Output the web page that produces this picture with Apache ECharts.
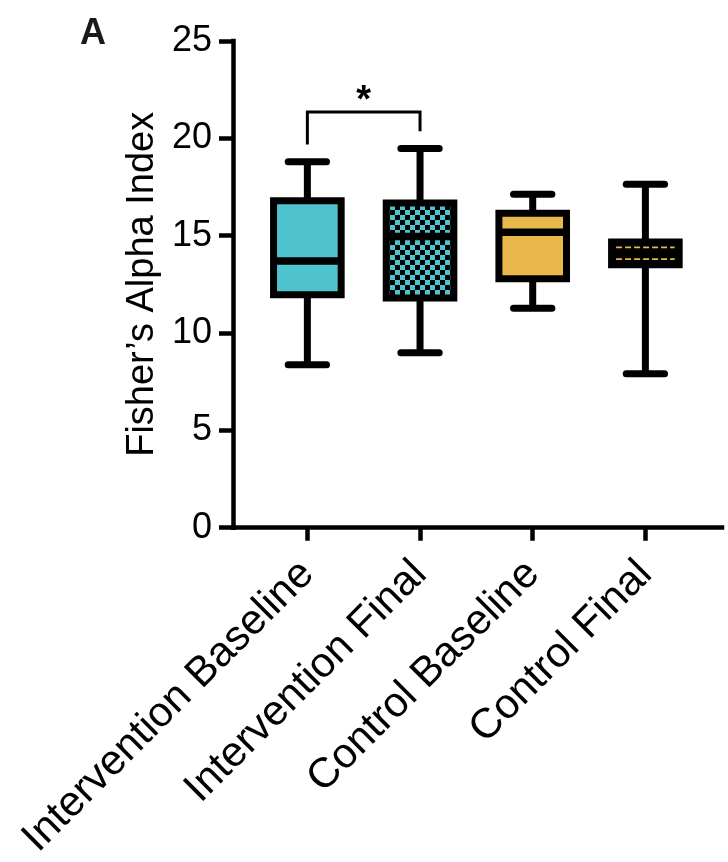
<!DOCTYPE html>
<html>
<head>
<meta charset="utf-8">
<script src="https://cdn.jsdelivr.net/npm/echarts@6/dist/echarts.min.js"></script>
<style>
  html, body { margin: 0; padding: 0; background: #fff; }
  #chart { width: 728px; height: 862px; }
</style>
</head>
<body>
<div id="chart"></div>
<script>
// ---- data ----
const categories = ['Intervention Baseline', 'Intervention Final', 'Control Baseline', 'Control Final'];
const minVals    = [8.37, 8.99, 11.27, 7.91];
const q1Vals     = [11.97, 11.80, 12.79, 13.50];
const medianVals = [13.70, 14.96, 15.17, 14.11];
const q3Vals     = [16.80, 16.68, 16.15, 14.68];
const maxVals    = [18.80, 19.48, 17.13, 17.64];
const yTicks     = [0, 5, 10, 15, 20, 25];
const sigPairs   = [[0, 1]];
const sigLevel   = [21.35];
const sigLabels  = ['*'];

// ---- styles ----
const CYAN = '#4fc4cf';
const GOLD = '#e8b84c';
const fillKinds = ['solid', 'checker', 'solid', 'wave'];
const fillColors = [CYAN, CYAN, GOLD, GOLD];
const FONT = '"Liberation Sans", Arial, Helvetica, sans-serif';

function makeChecker(color) {
  const c = document.createElement('canvas');
  c.width = 10; c.height = 10;
  const g = c.getContext('2d');
  g.fillStyle = color; g.fillRect(0, 0, 10, 10);
  g.fillStyle = '#000';
  g.fillRect(0, 0, 5, 5); g.fillRect(5, 5, 5, 5);
  return c;
}
const checkerCanvas = makeChecker(CYAN);

const boxData = categories.map((c, i) => [i, minVals[i], q1Vals[i], medianVals[i], q3Vals[i], maxVals[i]]);
const sigData = sigPairs.map((p, k) => [p[0], p[1], sigLevel[k]]);

const LW = 7;
function renderBox(params, api) {
  const i = api.value(0);
  const pMin = api.coord([i, api.value(1)]);
  const pQ1 = api.coord([i, api.value(2)]);
  const pMed = api.coord([i, api.value(3)]);
  const pQ3 = api.coord([i, api.value(4)]);
  const pMax = api.coord([i, api.value(5)]);
  const band = api.size([1, 0])[0];
  const half = band * 0.3;
  const capHalf = band * 0.17;
  const x = pMed[0];
  const kind = fillKinds[i];
  const children = [];
  const lineStyle = { stroke: '#000', lineWidth: LW, lineCap: 'butt' };
  children.push({ type: 'line', shape: { x1: x, y1: pMax[1], x2: x, y2: pQ3[1] }, style: lineStyle });
  children.push({ type: 'line', shape: { x1: x, y1: pQ1[1], x2: x, y2: pMin[1] }, style: lineStyle });
  const capStyle = { stroke: '#000', lineWidth: LW, lineCap: 'round' };
  children.push({ type: 'line', shape: { x1: x - capHalf, y1: pMax[1], x2: x + capHalf, y2: pMax[1] }, style: capStyle });
  children.push({ type: 'line', shape: { x1: x - capHalf, y1: pMin[1], x2: x + capHalf, y2: pMin[1] }, style: capStyle });
  let fill = fillColors[i];
  if (kind === 'checker') fill = { image: checkerCanvas, repeat: 'repeat' };
  if (kind === 'wave') fill = '#000';
  children.push({
    type: 'rect',
    shape: { x: x - half, y: pQ3[1], width: half * 2, height: pQ1[1] - pQ3[1] },
    style: { fill: fill, stroke: '#000', lineWidth: LW }
  });
  if (kind === 'wave') {
    const yA = (pQ3[1] + LW / 2 + pMed[1] - 3.75) / 2;
    const yB = (pQ1[1] - LW / 2 + pMed[1] + 3.75) / 2;
    [yA, yB].forEach(yy => {
      children.push({
        type: 'line',
        shape: { x1: x - half + LW / 2 + 1, y1: yy, x2: x + half - LW / 2 - 1, y2: yy },
        style: { stroke: fillColors[i], lineWidth: 1.8, lineDash: [6, 3] }
      });
    });
  }
  children.push({ type: 'line', shape: { x1: x - half, y1: pMed[1], x2: x + half, y2: pMed[1] }, style: { stroke: '#000', lineWidth: 7.5 } });
  return { type: 'group', children: children };
}

function renderSig(params, api) {
  const a = api.value(0), b = api.value(1), lvl = api.value(2);
  const pA = api.coord([a, lvl]);
  const pB = api.coord([b, lvl]);
  const endA = api.coord([a, maxVals[a] + 0.88]);
  const endB = api.coord([b, maxVals[b] + 0.88]);
  return {
    type: 'group',
    children: [
      { type: 'polyline', shape: { points: [[pA[0], endA[1]], [pA[0], pA[1]], [pB[0], pB[1]], [pB[0], endB[1]]] },
        style: { stroke: '#000', lineWidth: 3, fill: null } },
      { type: 'text', style: { x: (pA[0] + pB[0]) / 2, y: pA[1] - 11, text: sigLabels[params.dataIndex],
        font: 'bold 38px ' + FONT, fill: '#000', align: 'center', verticalAlign: 'middle' } }
    ]
  };
}

const chart = echarts.init(document.getElementById('chart'), null, { renderer: 'canvas' });
chart.setOption({
  animation: false,
  backgroundColor: '#fff',
  title: {
    text: 'A', left: 80, top: 16, padding: 0,
    textStyle: { fontFamily: FONT, fontWeight: 'bold', fontSize: 36, color: '#1a1a1a' }
  },
  grid: { left: 233, right: 6, top: 41, bottom: 332.5, containLabel: false },
  xAxis: {
    type: 'value', min: -0.66, max: 3.68,
    splitLine: { show: false },
    axisLine: { show: true, onZero: false, lineStyle: { color: '#000', width: 4.5, cap: 'square' } },
    axisTick: { show: true, customValues: [0, 1, 2, 3], length: 13, lineStyle: { color: '#000', width: 4.5 } },
    axisLabel: {
      customValues: [0, 1, 2, 3],
      formatter: v => categories[Math.round(v)],
      rotate: 45, margin: 40, fontSize: 42, fontFamily: FONT, color: '#000'
    }
  },
  yAxis: {
    type: 'value', min: yTicks[0], max: yTicks[yTicks.length - 1], interval: 5,
    splitLine: { show: false },
    axisLine: { show: true, onZero: false, lineStyle: { color: '#000', width: 4.5, cap: 'square' } },
    axisTick: { show: true, length: 14, lineStyle: { color: '#000', width: 4.5 } },
    axisLabel: { margin: 21, fontSize: 36, fontFamily: FONT, color: '#000' },
    name: 'Fisher\u2019s Alpha Index', nameLocation: 'middle', nameGap: 68,
    nameTextStyle: { fontSize: 38, fontFamily: FONT, color: '#000' }
  },
  series: [
    { type: 'custom', name: 'box', renderItem: renderBox, data: boxData, encode: { x: 0, y: [1, 2, 3, 4, 5] }, clip: false },
    { type: 'custom', name: 'sig', renderItem: renderSig, data: sigData, encode: { x: [0, 1], y: 2 }, clip: false }
  ]
});
</script>
</body>
</html>
